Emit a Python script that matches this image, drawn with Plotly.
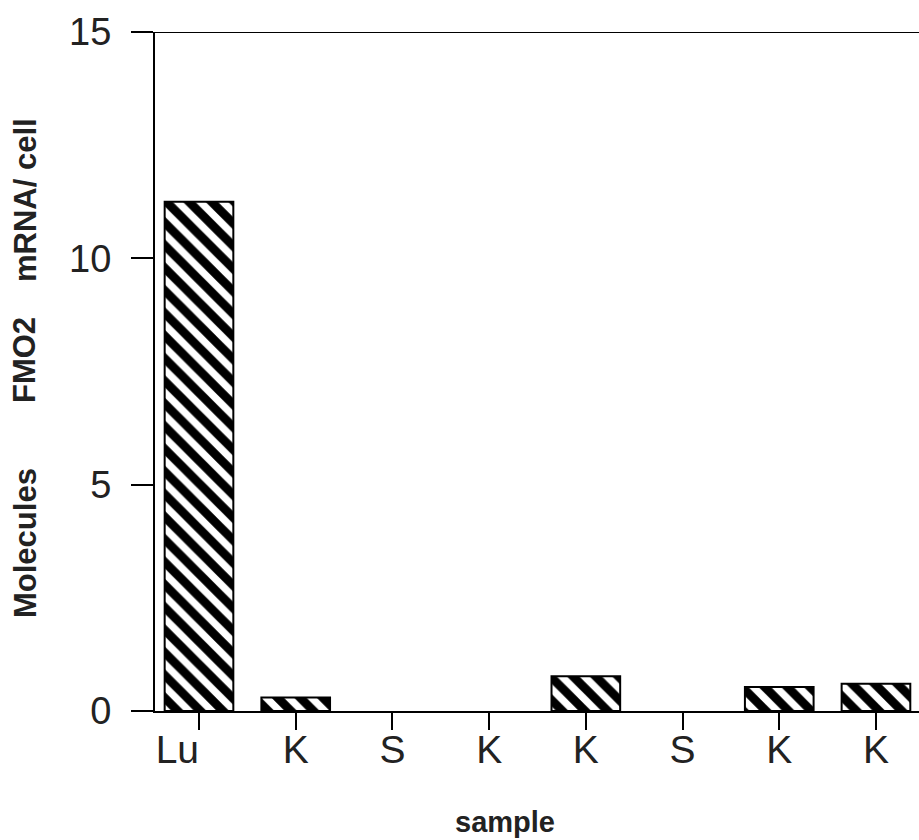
import plotly.graph_objects as go

categories = ["Lu", "K", "S", "K", "K", "S", "K", "K"]
values = [11.25, 0.3, 0.0, 0.0, 0.77, 0.0, 0.53, 0.6]
y_ticks = [0, 5, 10, 15]
y_title_parts = ["Molecules", "FMO2", "mRNA/ cell"]
x_title = "sample"

positions = list(range(len(categories)))
NB = "\u00a0"
tick_text = [c + NB * 4 if len(c) > 1 else c for c in categories]

fig = go.Figure()
fig.add_trace(go.Bar(
    x=positions,
    y=values,
    width=0.71,
    marker=dict(
        color="white",
        line=dict(color="black", width=[2 if v > 0 else 0 for v in values]),
        pattern=dict(shape="\\", size=16, solidity=0.55, fgcolor="black",
                     bgcolor="white", fgopacity=1, fillmode="replace"),
    ),
    showlegend=False,
))

L, R, T, B = 155, 0, 32, 129
W, H = 919, 840
pw = W - L - R
ph = H - T - B

FONT = "Liberation Sans, Arial, sans-serif"

fig.update_layout(
    width=W, height=H,
    margin=dict(l=L, r=R, t=T, b=B, pad=0),
    plot_bgcolor="white",
    paper_bgcolor="white",
    font=dict(family=FONT, color="black"),
)

fig.update_xaxes(
    range=[-0.455, 7.445],
    tickmode="array",
    tickvals=positions,
    ticktext=tick_text,
    ticks="outside",
    ticklen=17,
    tickwidth=1.5,
    tickcolor="black",
    tickfont=dict(size=39, color="#222"),
    ticklabelstandoff=-14,
    showline=True,
    linecolor="black",
    linewidth=2,
    showgrid=False,
    zeroline=False,
)
fig.update_yaxes(
    range=[0, 15],
    tickmode="array",
    tickvals=y_ticks,
    ticktext=[str(v) for v in y_ticks],
    ticks="outside",
    ticklen=22,
    tickwidth=2,
    tickcolor="black",
    tickfont=dict(size=38, color="#222"),
    ticklabelstandoff=12,
    showline=True,
    linecolor="black",
    linewidth=2,
    showgrid=False,
    zeroline=False,
)

# top border line
fig.add_shape(type="line", xref="paper", yref="y", x0=0, x1=1, y0=15, y1=15,
              line=dict(color="black", width=2))

def px_to_paper_x(px):
    return (px - L) / pw

def py_to_paper_y(py):
    return (H - B - py) / ph

title_centers = [543, 360, 200]
for txt, cy in zip(y_title_parts, title_centers):
    fig.add_annotation(
        text="<b>" + txt + "</b>", xref="paper", yref="paper",
        x=px_to_paper_x(25), y=py_to_paper_y(cy),
        textangle=-90, showarrow=False,
        font=dict(size=31, color="#222", family=FONT),
        xanchor="center", yanchor="middle",
    )

fig.add_annotation(
    text="<b>" + x_title + "</b>", xref="paper", yref="paper",
    x=px_to_paper_x(505), y=py_to_paper_y(822),
    showarrow=False,
    font=dict(size=29, color="#222", family=FONT),
    xanchor="center", yanchor="middle",
)

fig.write_html("out.html")
